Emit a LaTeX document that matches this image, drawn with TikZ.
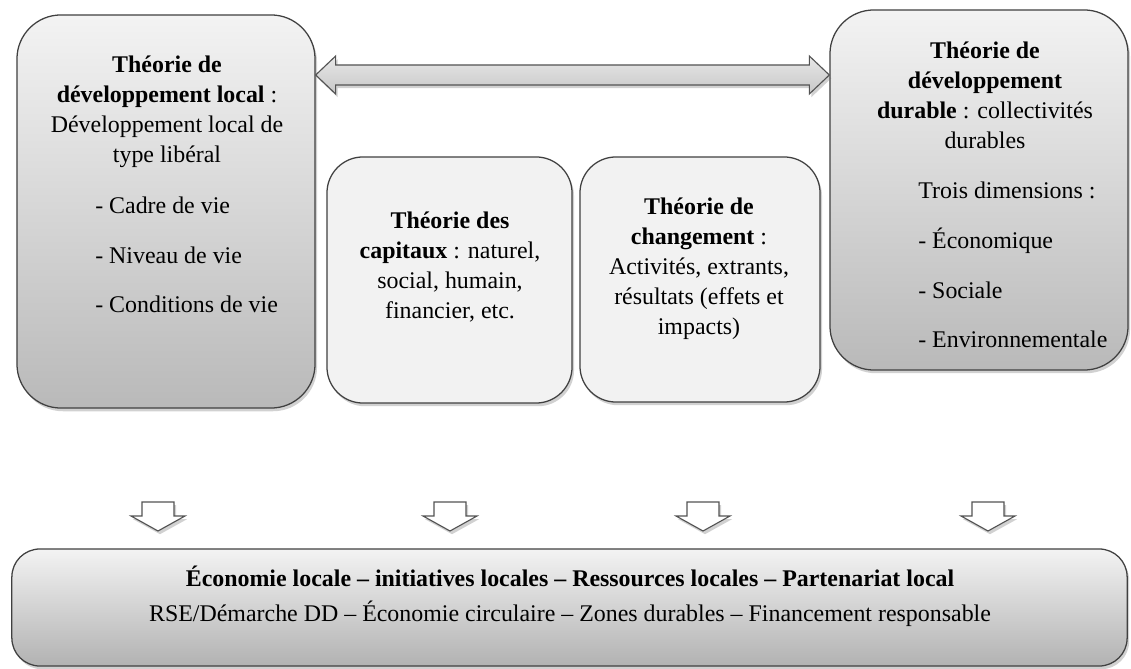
\documentclass[tikz,border=0pt]{standalone}
\usepackage{fontspec}
\setmainfont{Liberation Serif}
\usetikzlibrary{shadows,calc}
\definecolor{boxline}{HTML}{404040}
\definecolor{shadetop}{HTML}{F3F3F3}
\definecolor{shadebot}{HTML}{B9B9B9}
\definecolor{flatgray}{HTML}{F2F2F2}

\tikzset{
	softshadow/.style={drop shadow={shadow xshift=0.5mm, shadow yshift=-0.8mm, opacity=0.3, fill=black!60}},
	sidebox/.style={draw=boxline, line width=0.9pt, rounded corners=1.1cm, top color=shadetop, bottom color=shadebot, softshadow},
	midbox/.style={draw=boxline, line width=0.9pt, rounded corners=0.9cm, fill=flatgray, softshadow},
	basebox/.style={draw=boxline, line width=0.9pt, rounded corners=0.7cm, top color=shadetop, bottom color=shadebot!110, softshadow},
	boxtext/.style={inner sep=0pt, align=center, font=\fontsize{17}{21.3}\selectfont},
	listtext/.style={inner sep=0pt, align=left, font=\fontsize{17}{35.4}\selectfont},
	blockarrow/.style={draw=boxline!90, line width=0.8pt, line join=miter, top color=shadetop!90!gray, bottom color=shadebot!80!white, softshadow},
	downarrow/.style={draw=boxline!90, line width=0.8pt, line join=miter, fill=white, softshadow}
}

\begin{document}
\begin{tikzpicture}[x=0.025cm, y=-0.025cm]
				\useasboundingbox (0,0) rectangle (1131,669);

				\node [sidebox, minimum width=7.45cm, minimum height=9.825cm] (lt) at (166,211.5) {};
				\node [boxtext] (ltitle) at (167,112) {\textbf{Théorie de}\\ \textbf{développement local} :\\ Développement local de\\ type libéral};
				\node [listtext, anchor=west] (llist) at (95,255) {- Cadre de vie\\ - Niveau de vie\\ - Conditions de vie};

				\node [sidebox, minimum width=7.45cm, minimum height=9cm] (rt) at (979,190) {};
				\node [boxtext] (rtitle) at (985,95) {\textbf{Théorie de}\\ \textbf{développement}\\ \textbf{durable} : collectivités\\ durables};
				\node [boxtext] (rdim) at (1007,190) {Trois dimensions :};
				\node [listtext, anchor=west] (rlist) at (918,288) {- Économique\\ - Sociale\\ - Environnementale};

				\node [midbox, minimum width=6.125cm, minimum height=6.15cm] (cap) at (449.5,280) {};
				\node [boxtext] (captext) at (450,267) {\textbf{Théorie des}\\ \textbf{capitaux} : naturel,\\ social, humain,\\ financier, etc.};

				\node [midbox, minimum width=6cm, minimum height=6.125cm] (chg) at (700,279.5) {};
				\node [boxtext] (chgtext) at (699,269) {\textbf{Théorie de}\\ \textbf{changement} :\\ Activités, extrants,\\ résultats (effets et\\ impacts)};

				\coordinate (ay) at (0,75);
				\draw [blockarrow] (lt.east |- ay) -- ++(20,-19) -- ++(0,9) -- ($(rt.west |- ay)+(-20,-10)$) -- ++(0,-9) -- (rt.west |- ay) -- ++(-20,19) -- ++(0,-9) -- ($(lt.east |- ay)+(20,10)$) -- ++(0,9) -- cycle;

				\foreach \ax in {158,450,703,988}
					\draw [downarrow] (\ax-16,502) -- (\ax+16,502) -- (\ax+16,516) -- (\ax+27,516) -- (\ax,531) -- (\ax-27,516) -- (\ax-16,516) -- cycle;

				\node [basebox, minimum width=27.875cm, minimum height=2.925cm] (base) at (569.5,607.5) {};
				\node [boxtext, font=\fontsize{17}{24.9}\selectfont] (basetext) at (570,596) {\textbf{Économie locale -- initiatives locales -- Ressources locales -- Partenariat local}\\ RSE/Démarche DD -- Économie circulaire -- Zones durables -- Financement responsable};
			\end{tikzpicture}
\end{document}
